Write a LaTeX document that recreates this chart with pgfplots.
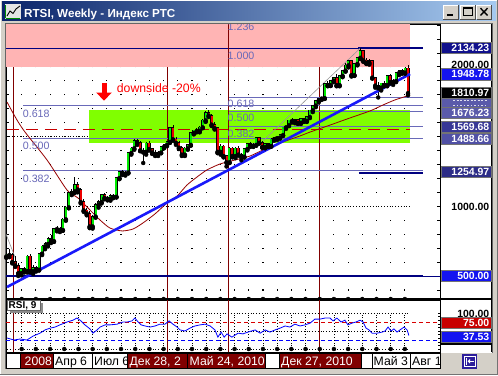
\documentclass[border=0pt]{standalone}
\usepackage{fontspec}
\setmainfont{Liberation Sans}
\usepackage{pgfplots}
\usepackage{pgfplotstable}
\pgfplotsset{compat=1.18}

\definecolor{winbg}{RGB}{212,208,200}
\definecolor{titleL}{RGB}{10,36,106}
\definecolor{titleR}{RGB}{166,202,240}
\definecolor{pinkb}{RGB}{255,180,180}
\definecolor{greenb}{RGB}{128,255,0}
\definecolor{fibc}{RGB}{105,105,185}
\definecolor{navyl}{RGB}{0,0,128}
\definecolor{trendb}{RGB}{25,25,250}
\definecolor{dred}{RGB}{128,0,0}
\definecolor{mared}{RGB}{150,0,0}
\definecolor{dashred}{RGB}{200,0,0}
\definecolor{cgreen}{RGB}{0,235,0}
\definecolor{cred}{RGB}{235,0,0}
\definecolor{graytl}{RGB}{150,150,150}
\definecolor{lab2134}{RGB}{16,16,140}
\definecolor{labblue}{RGB}{20,20,240}
\definecolor{fibbox}{RGB}{90,90,170}
\definecolor{fibbox2}{RGB}{80,80,165}
\definecolor{lab1569}{RGB}{55,55,150}
\definecolor{lab1254}{RGB}{45,45,135}
\definecolor{rsired}{RGB}{200,0,0}
\definecolor{btnnavy}{RGB}{45,30,155}

\pgfplotstableread{
w o h l c
-2 640 680 630 655
3 520 560 505 552
5 535 650 525 640
7 535 578 515 560
9 545 668 540 660
10 660 722 650 712
11 712 742 692 730
12 730 778 712 766
14 750 846 745 836
15 836 862 820 842
17 830 915 825 906
18 906 1002 896 992
19 992 1100 985 1094
20 1094 1122 1080 1106
21 1106 1213 1095 1155
27 855 935 840 926
28 926 1020 918 1012
29 1012 1042 990 1030
30 1030 1090 1020 1080
33 1054 1086 1040 1075
35 1068 1210 1064 1202
36 1202 1256 1194 1246
38 1234 1252 1220 1242
39 1242 1390 1235 1381
40 1381 1425 1370 1415
41 1415 1480 1405 1470
45 1390 1460 1370 1450
49 1375 1395 1360 1385
50 1385 1430 1380 1425
51 1425 1445 1415 1440
52 1440 1465 1430 1460
53 1460 1570 1455 1560
58 1370 1425 1360 1415
59 1415 1445 1405 1440
60 1440 1530 1435 1525
61 1525 1550 1515 1545
63 1540 1575 1530 1565
64 1565 1625 1560 1615
65 1615 1680 1605 1670
70 1390 1445 1370 1430
73 1315 1425 1310 1415
75 1360 1425 1345 1415
78 1355 1415 1350 1410
79 1410 1450 1400 1445
81 1435 1450 1425 1440
82 1440 1495 1435 1490
85 1425 1450 1415 1445
87 1432 1492 1428 1480
88 1480 1495 1470 1488
89 1488 1500 1475 1492
90 1492 1515 1485 1510
91 1510 1570 1505 1565
92 1565 1585 1555 1580
93 1580 1620 1575 1615
95 1610 1625 1595 1618
97 1598 1630 1590 1625
99 1612 1645 1605 1640
100 1640 1692 1632 1688
101 1688 1728 1675 1722
102 1722 1765 1710 1758
103 1758 1778 1745 1772
104 1772 1785 1762 1775
105 1775 1885 1770 1878
107 1868 1905 1862 1900
108 1900 1925 1890 1920
110 1868 1940 1860 1935
111 1935 1980 1925 1972
112 1972 2030 1965 2010
113 2010 2048 1995 2040
115 1940 2025 1935 2020
116 2020 2070 2010 2064
117 2064 2134 2055 2112
120 2028 2055 2015 2042
124 1850 1885 1830 1880
126 1868 1940 1860 1935
128 1890 1910 1870 1898
129 1898 1960 1890 1955
130 1955 1980 1940 1972
132 1958 1995 1950 1988
}\upc

\pgfplotstableread{
w o h l c
-1 655 690 635 650
0 650 662 590 600
1 600 640 565 575
2 575 590 500 520
4 552 565 525 535
6 640 655 525 535
8 560 572 532 545
13 766 792 736 750
16 842 852 815 830
22 1155 1172 1100 1120
23 1120 1132 1020 1030
24 1030 1052 960 970
25 970 986 935 948
26 948 966 843 855
31 1080 1096 1050 1060
32 1060 1076 1042 1054
34 1075 1090 1058 1068
37 1246 1262 1224 1234
42 1470 1485 1440 1455
43 1455 1470 1395 1400
44 1400 1420 1310 1390
46 1450 1465 1400 1410
47 1410 1420 1375 1385
48 1385 1400 1360 1375
54 1560 1585 1470 1480
55 1480 1500 1440 1455
56 1455 1470 1410 1420
57 1420 1430 1360 1370
62 1545 1560 1530 1540
66 1670 1690 1640 1650
67 1650 1660 1575 1585
68 1585 1605 1550 1560
69 1560 1570 1380 1390
71 1430 1440 1350 1360
72 1360 1370 1285 1315
74 1415 1425 1350 1360
76 1415 1430 1365 1370
77 1370 1385 1330 1355
80 1445 1460 1425 1435
83 1490 1500 1450 1455
84 1455 1465 1420 1425
86 1445 1455 1425 1432
94 1615 1630 1600 1610
96 1618 1628 1590 1598
98 1625 1635 1605 1612
106 1878 1895 1860 1868
109 1920 1945 1860 1868
114 2040 2048 1930 1940
118 2112 2120 2035 2045
119 2045 2060 2020 2028
121 2042 2050 1915 1922
122 1922 1930 1850 1865
123 1865 1890 1780 1850
125 1880 1895 1860 1868
127 1935 1945 1880 1890
131 1972 1985 1950 1958
133 1988 2015 1795 1811
}\dnc

\pgfplotstableread{
w v
-1.78 1747
1.58 1618
4.27 1532
11.66 1332
18.4 1116
22.1 1059
26.1 973
29.5 901
32.8 844
36.9 823
40.6 837
43.9 880
47.9 944
52 1023
55.4 1073
58.7 1152
62.1 1210
65.4 1260
69.8 1303
74.9 1332
79.9 1360
84.9 1410
91 1461
96.7 1504
100.1 1532
106.8 1582
113.5 1633
120.2 1683
124.6 1726
128.6 1762
133.7 1797
}\mavg

\pgfplotstableread{
w r
-1.8 30.6
0.6 25
2.6 27.8
4.9 25
7 36
9.3 44
11 53
12.7 58
14.4 61
16 67
18.4 75
20.4 80
21.7 86
22.8 80
24.4 67
26.1 56
27.1 44
28.5 53
29.5 61
31.2 67
32.8 67
35.2 69
37.2 75
38.6 75
40.2 78
41.2 86
42.3 75
43.3 67
44.6 64
46.3 61
48 64
49.6 69
51.3 69
52.7 78
54 69
55.4 61
56.4 53
58 50
59.7 58
61.4 64
63.1 67
64.8 69
66.5 64
68.1 53
69.1 33
70.2 47
71.2 33
72.2 42
73.8 33
75.9 44
77.5 42
79.2 47
81.6 53
83.3 44
85 53
86.6 47
88.3 53
90 58
91.7 64
93.3 61
95 69
96.7 64
98.4 67
100.1 72
101.7 83
103.4 83
105.1 86
106.8 86
107.8 78
109.1 86
110.5 75
111.8 80
112.8 67
114.2 72
115.5 75
116.9 80
117.9 75
118.9 58
119.9 53
120.9 44
122.6 44
124.3 47
125.3 50
126.3 61
127.3 50
128.3 56
129.3 47
130.3 53
131.7 61
132.7 53
133.3 37.53
}\rsi

% columns of the dotted grid: x position, bottom of the dotted column in the price panel
\pgfplotstableread{
x b
3.16 335.1
7.93 335.1
12.70 335.1
17.47 335.1
22.24 335.1
27.01 335.1
31.78 335.1
36.55 335.1
41.32 335.1
46.09 335.1
50.86 335.1
55.63 335.1
60.40 335.1
65.17 335.1
69.94 335.1
74.71 335.1
79.48 335.1
84.25 335.1
89.02 335.1
93.79 335.1
98.56 335.1
103.33 335.1
108.10 335.1
112.87 335.1
117.64 335.1
122.41 335.1
127.18 335.1
131.95 335.1
}\gridx

\pgfplotsset{
  cbar/.style 2 args={only marks, mark=none, forget plot,
    error bars/.cd, y dir=plus, y explicit, error mark=none,
    error bar style={draw=#1, line width=#2}},
}

\newcommand{\lblfont}{\bfseries\fontsize{10.5}{12}\selectfont}
\newcommand{\fibfont}{\fontsize{10.7}{12}\selectfont}
\newcommand{\pbox}[2]{%
  \fill[#2] (441,{375-#1-5.6}) rectangle (491,{375-#1+5.6});
  \draw[black!55, line width=0.5bp] (441,{375-#1-5.6}) rectangle (491,{375-#1+5.6});
}
\newcommand{\plabel}[4]{%
  \pbox{#1}{#2}
  \node[anchor=east, text=#3, font=\lblfont, inner sep=0pt] at (489.5,{375-#1}) {#4};
}
\newcommand{\dbox}[6]{%
  \begin{scope}
    \clip (#1,7) rectangle (#2,21.5);
    \fill[#3] (#1,7) rectangle (#2,21.5);
    \node[anchor=base west, inner sep=0pt, text=#4, font=\fontsize{12.3}{14}\selectfont] at (#5,9.7) {#6};
  \end{scope}
  \draw[black, line width=0.8bp] (#1,7) rectangle (#2,21.5);
}

\begin{document}
\begin{tikzpicture}[x=1bp,y=1bp]
% window
\fill[winbg] (0,0) rectangle (498,375);
\draw[white, line width=1bp] (0.5,0.5) -- (0.5,374.5) -- (497.5,374.5);
\draw[black!55, line width=1bp] (0.5,0.5) -- (497.5,0.5) -- (497.5,374.5);
\shade[left color=titleL, right color=titleR] (2,354) rectangle (496,373);
% chart white area
\fill[white] (6,22) rectangle (492,351);
\fill[white] (6,7) rectangle (440,22);
\draw[black!60, line width=1bp] (5.5,6.5) -- (5.5,351.5) -- (492.5,351.5) -- (492.5,22);

% ---------------- main price panel
\begin{axis}[at={(6bp,76bp)}, anchor=south west, width=434bp, height=275bp, scale only axis,
  xmin=-2.118, xmax=143.76, ymin=335.1, ymax=2306.5,
  axis background/.style={fill=white},
  xtick=\empty,
  ytick={400,500,...,2300}, yticklabels={}, ytick pos=both, yticklabel pos=right, tick align=inside,
  major tick length=3bp, y tick style={black, line width=0.6bp},
  axis line style={black, line width=0.8bp}]
  % dotted grid (dots every 100 points)
  \addplot[only marks, mark=none, forget plot, error bars/.cd, y dir=plus, y explicit, error mark=none,
    error bar style={draw=black, line width=1.1bp, dash pattern=on 1.1bp off 12.85bp, dash phase=5.45bp}]
    table[x=x, y=b, y error expr=1971.4] {\gridx};
  % dense dotted levels
  \draw[black, line width=0.8bp, dash pattern=on 0.8bp off 2bp] (-2.118,1000) -- (133.7,1000);
  \draw[black, line width=0.8bp, dash pattern=on 0.8bp off 2bp] (-2.118,1500) -- (133.7,1500);
  % green zone
  \fill[greenb] (25.8,1453) rectangle (133.7,1690);
  % date marker lines under the pink zone
  \draw[dred, line width=1bp] (0.57,335.1) -- (0.57,2306.5);
  \draw[dred, line width=1bp] (52,335.1) -- (52,2306.5);
  \draw[dred, line width=1bp] (103.4,335.1) -- (103.4,2306.5);
  % pink zone
  \fill[pinkb] (-2.118,1998) rectangle (133.7,2306.5);
  % fibonacci (left)
  \draw[fibc, line width=0.9bp] (3.6,1722.4) -- (138.1,1722.4);
  \draw[fibc, line width=0.9bp] (3.6,1488.66) -- (138.1,1488.66);
  \draw[fibc, line width=0.9bp] (3.6,1254.97) -- (138.1,1254.97);
  % fibonacci (middle)
  \draw[fibc, line width=0.9bp] (72.5,1782) -- (138.1,1782);
  \draw[fibc, line width=0.9bp] (72.5,1676.23) -- (138.1,1676.23);
  \draw[fibc, line width=0.9bp] (72.5,1569.68) -- (138.1,1569.68);
  % navy levels
  \draw[navyl, line width=0.9bp] (-2.118,2134.23) -- (138.1,2134.23);
  \draw[navyl, line width=2.2bp] (116.3,2134.23) -- (138.1,2134.23);
  \draw[navyl, line width=1.5bp] (116.5,1237) -- (138.1,1237);
  \draw[navyl, line width=2.6bp] (-2.118,500) -- (138.1,500);
  \draw[navyl, line width=0.9bp] (138.1,500) -- (143.76,500);
  % red dashed level
  \draw[dashred, line width=1.3bp, dash pattern=on 12bp off 7bp] (-1.8,1550) -- (133.7,1550);
  % May 24 line on top of pink
  \draw[dred, line width=1bp] (72.5,335.1) -- (72.5,2306.5);
  % moving average and gray lines
  \addplot[mared, line width=0.8bp, smooth, tension=0.4] table[x=w, y=v] {\mavg};
  \addplot[graytl, line width=0.6bp] coordinates {(-2.1,800) (1,630)};
  \addplot[graytl, line width=0.6bp] coordinates {(82.5,1432) (117,2134)};
  % candles: wicks
  \addplot[cbar={black}{0.8bp}] table[x=w, y=l, y error expr=\thisrow{h}-\thisrow{l}] {\upc};
  \addplot[cbar={black}{0.8bp}] table[x=w, y=l, y error expr=\thisrow{h}-\thisrow{l}] {\dnc};
  % bodies outline
  \addplot[cbar={black}{3bp}] table[x=w, y expr=\thisrow{o}-5, y error expr=\thisrow{c}-\thisrow{o}+10] {\upc};
  \addplot[cbar={black}{3bp}] table[x=w, y expr=\thisrow{c}-5, y error expr=\thisrow{o}-\thisrow{c}+10] {\dnc};
  % bodies fill
  \addplot[cbar={cgreen}{2bp}] table[x=w, y=o, y error expr=\thisrow{c}-\thisrow{o}] {\upc};
  \addplot[cbar={cred}{2bp}] table[x=w, y=c, y error expr=\thisrow{o}-\thisrow{c}] {\dnc};
  % trend line
  \addplot[trendb, line width=2.6bp] coordinates {(-1.78,421) (133.7,1948)};
\end{axis}

% ---------------- RSI panel
\begin{axis}[at={(6bp,23bp)}, anchor=south west, width=434bp, height=52bp, scale only axis,
  xmin=-2.118, xmax=143.76, ymin=-8.3, ymax=136.1,
  axis background/.style={fill=white},
  xtick=\empty, ytick={0,10,...,100}, yticklabels={}, ytick pos=right, tick align=inside,
  major tick length=2.5bp, y tick style={black, line width=0.5bp},
  axis line style={black, line width=0.8bp}]
  \draw[black, line width=0.8bp, dash pattern=on 0.8bp off 2bp] (-1.8,100) -- (133.7,100);
  \draw[black, line width=0.8bp, dash pattern=on 0.8bp off 2bp] (-1.8,50) -- (133.7,50);
  \draw[black, line width=0.8bp, dash pattern=on 0.8bp off 2bp] (-1.8,0) -- (133.7,0);
  \addplot[only marks, mark=none, forget plot, error bars/.cd, y dir=plus, y explicit, error mark=none,
    error bar style={draw=black, line width=0.8bp, dash pattern=on 0.8bp off 2bp}]
    table[x=x, y expr=0, y error expr=100] {\gridx};
  \draw[red!85!black, line width=1bp, dash pattern=on 4bp off 3bp] (-2.118,75) -- (143.76,75);
  \draw[blue, line width=1bp, dash pattern=on 4bp off 3bp] (-2.118,25) -- (143.76,25);
  \draw[dred, line width=1bp] (0.57,-8.3) -- (0.57,136.1);
  \draw[dred, line width=1bp] (52,-8.3) -- (52,136.1);
  \draw[dred, line width=1bp] (72.5,-8.3) -- (72.5,136.1);
  \draw[dred, line width=1bp] (103.4,-8.3) -- (103.4,136.1);
  \addplot[blue, line width=0.8bp] table[x=w, y=r] {\rsi};
\end{axis}

% separators and frames
\draw[black, line width=2.2bp] (6,76) -- (492,76);
\draw[black, line width=1bp] (440,22) -- (440,351);
\draw[black, line width=1bp] (6,22.5) -- (440,22.5);
\draw[black, line width=0.8bp] (491.6,23) -- (491.6,351);

% RSI label box
\fill[black!45] (9.5,62.5) rectangle (42.5,72.5);
\fill[white] (7,65) rectangle (40,75);
\draw[black!60, line width=0.5bp] (7,65) rectangle (40,75);
\node[anchor=base west, inner sep=0pt, font=\bfseries\fontsize{10}{12}\selectfont] at (8.5,66.5) {RSI, 9};

% price labels (main)
\plabel{48}{lab2134}{white}{2134.23}
\node[anchor=east, font=\lblfont, inner sep=0pt] at (489.5,{375-64.5}) {2000.00};
\plabel{74.2}{labblue}{white}{1948.78}
\pbox{96.5}{fibbox}
\pbox{103}{fibbox}
\draw[white!80!fibbox, line width=0.8bp, dash pattern=on 2bp off 1.5bp] (453,{375-100.8}) -- (488,{375-100.8});
\draw[white!80!fibbox, line width=0.8bp, dash pattern=on 1.5bp off 2bp] (453,{375-105}) -- (488,{375-105});
\plabel{93}{black}{white}{1810.97}
\plabel{112.7}{fibbox}{white}{1676.23}
\plabel{126.8}{lab1569}{white}{1569.68}
\plabel{138.5}{fibbox2}{white}{1488.66}
\plabel{171.8}{lab1254}{white}{1254.97}
\node[anchor=east, font=\lblfont, inner sep=0pt] at (489.5,{375-206.5}) {1000.00};
\plabel{275.7}{labblue}{white}{500.00}
% price labels (RSI)
\node[anchor=east, font=\lblfont, inner sep=0pt] at (489.5,{375-313.5}) {100.00};
\fill[black] (441,{375-344.5}) rectangle (491,{375-341});
\draw[white, line width=0.7bp, dash pattern=on 2bp off 1.5bp] (455,{375-342.6}) -- (488,{375-342.6});
\plabel{322.5}{rsired}{white}{75.00}
\plabel{336.5}{labblue}{white}{37.53}

% fibonacci labels
\begin{scope}
  \clip (6,76) rectangle (440,351);
  \node[anchor=base west, inner sep=0pt, text=fibc, font=\fibfont] at (22.7,257.7) {0.618};
  \node[anchor=base west, inner sep=0pt, text=fibc, font=\fibfont] at (22.7,225.7) {0.500};
  \node[anchor=base west, inner sep=0pt, text=fibc, font=\fibfont] at (22.7,192.3) {0.382};
  \node[anchor=base west, inner sep=0pt, text=fibc, font=\fibfont] at (227.5,345) {1.236};
  \node[anchor=base west, inner sep=0pt, text=fibc, font=\fibfont] at (227.5,315.7) {1.000};
  \node[anchor=base west, inner sep=0pt, text=fibc, font=\fibfont] at (227.5,267.7) {0.618};
  \node[anchor=base west, inner sep=0pt, text=fibc, font=\fibfont] at (227.5,253.3) {0.500};
  \node[anchor=base west, inner sep=0pt, text=fibc, font=\fibfont] at (227.5,237.7) {0.382};
\end{scope}

% downside annotation
\fill[red] (101.5,282.3) rectangle (106.5,291.7);
\fill[red] (96.2,282.5) -- (111.8,282.5) -- (104,274.3) -- cycle;
\node[anchor=base west, inner sep=0pt, text=red, font=\fontsize{12.3}{14}\selectfont] at (116.7,282.3) {downside -20\%};

% date row
\dbox{6.5}{20.5}{white}{black}{8}{}
\dbox{20.5}{53.5}{dred}{white}{24.5}{2008}
\dbox{53.5}{92.5}{white}{black}{55}{Апр 6}
\dbox{92.5}{127.5}{white}{black}{94}{Июл 6}
\dbox{127.5}{187.5}{dred}{white}{129.5}{Дек 28, 2}
\dbox{187.5}{265.5}{dred}{white}{189.5}{Май 24, 2010}
\dbox{265.5}{279}{white}{black}{267}{}
\dbox{279}{361}{dred}{white}{281}{Дек 27, 2010}
\dbox{361}{372}{white}{black}{362}{}
\dbox{372}{410.5}{white}{black}{373.5}{Май 3}
\dbox{410.5}{440}{white}{black}{412}{Авг 1}
% navy button
\fill[btnnavy] (462,6.5) rectangle (477,21);
\draw[white, line width=0.6bp] (464,9) rectangle (475,18.5);
\draw[white, line width=1bp] (466.2,10.5) -- (466.2,17);
\draw[white, line width=1bp] (473.5,13.75) -- (468,13.75);
\fill[white] (467.5,13.75) -- (470,16.2) -- (470,11.3) -- cycle;

% title bar content
\fill[black!10] (5,356) rectangle (21,371);
\draw[green!55!black, line width=1.2bp] (5.6,356.6) -- (5.6,370.4);
\draw[green!55!black, line width=1.2bp] (5.6,356.6) -- (20.4,356.6);
\draw[black, line width=0.9bp] (7,359) -- (10,364) -- (13,361.5) -- (16,366) -- (20,369);
\node[anchor=base west, inner sep=0pt, text=white, font=\bfseries\fontsize{11.7}{13}\selectfont] at (24,357.7) {RTSI, Weekly - Индекс РТС};
\foreach \bx in {443.3,460,476.7} {
  \fill[winbg] (\bx,356) rectangle (\bx+15,370);
  \draw[white, line width=0.8bp] (\bx,356) -- (\bx,370) -- (\bx+15,370);
  \draw[black!70, line width=0.8bp] (\bx,356) -- (\bx+15,356) -- (\bx+15,370);
}
\fill[black] (446.8,359) rectangle (453,360.6);
\draw[black, line width=0.8bp] (463.3,359.2) rectangle (472,367.3);
\draw[black, line width=1.6bp] (463.3,366.6) -- (472,366.6);
\draw[black, line width=1.4bp] (480.5,359.5) -- (487.5,366.8);
\draw[black, line width=1.4bp] (480.5,366.8) -- (487.5,359.5);

\pgfresetboundingbox
\path[use as bounding box] (0,0) rectangle (498,375);
\end{tikzpicture}
\end{document}
